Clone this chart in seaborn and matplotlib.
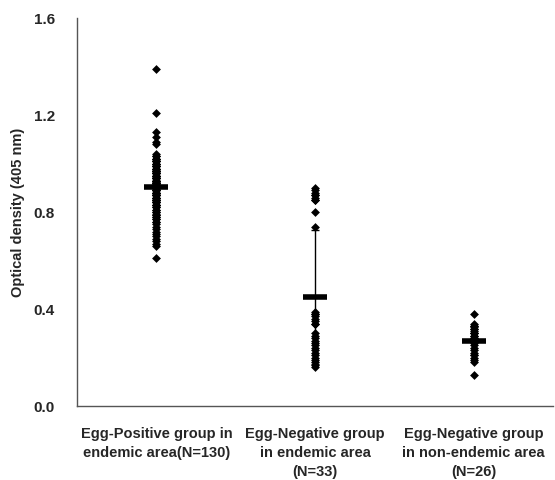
import numpy as np
import pandas as pd
import seaborn as sns
import matplotlib
matplotlib.use("Agg")
import matplotlib.pyplot as plt

# Group labels
groups = ["Egg-Positive group in\nendemic area(N=130)",
          "Egg-Negative group\nin endemic area\n(N=33)",
          "Egg-Negative group\nin non-endemic area\n(N=26)"]

# Optical density readings
egg_pos_endemic = [1.39, 1.21, 1.13, 1.11, 1.09, 1.08, 1.04, 1.03, 1.02, 1.02,
                   1.01, 1.01, 1.00, 1.00, 0.99, 0.99, 0.98, 0.98, 0.97, 0.97,
                   0.97, 0.96, 0.96, 0.96, 0.95, 0.95, 0.95, 0.94, 0.94, 0.94,
                   0.93, 0.93, 0.93, 0.93, 0.92, 0.92, 0.92, 0.92, 0.91, 0.91,
                   0.91, 0.91, 0.90, 0.90, 0.90, 0.90, 0.89, 0.89, 0.89, 0.89,
                   0.88, 0.88, 0.88, 0.88, 0.87, 0.87, 0.87, 0.87, 0.86, 0.86,
                   0.86, 0.85, 0.85, 0.85, 0.84, 0.84, 0.84, 0.83, 0.83, 0.83,
                   0.82, 0.82, 0.81, 0.81, 0.80, 0.80, 0.79, 0.79, 0.78, 0.78,
                   0.77, 0.77, 0.76, 0.76, 0.75, 0.74, 0.73, 0.72, 0.71, 0.70,
                   0.69, 0.68, 0.67, 0.66, 0.61, 0.95, 0.94, 0.93, 0.92, 0.91,
                   1.00, 0.99, 0.98, 0.97, 0.96, 0.90, 0.89, 0.88, 0.87, 0.86,
                   0.92, 0.91, 0.90, 0.89, 0.95, 0.94, 0.93, 1.03, 1.02, 1.01,
                   0.85, 0.84, 0.83, 0.96, 0.97, 0.98, 0.99, 0.93, 0.92, 0.91]
egg_neg_endemic = [0.90, 0.89, 0.88, 0.87, 0.87, 0.86, 0.85, 0.85, 0.80, 0.74,
                   0.39, 0.38, 0.38, 0.37, 0.36, 0.35, 0.34, 0.34,
                   0.30, 0.29, 0.28, 0.27, 0.26, 0.25, 0.24, 0.23, 0.22, 0.21,
                   0.20, 0.19, 0.18, 0.17, 0.16]
egg_neg_nonendemic = [0.38, 0.34, 0.33, 0.32, 0.31, 0.30, 0.30, 0.29, 0.29, 0.28,
                      0.28, 0.27, 0.27, 0.26, 0.25, 0.24, 0.23, 0.22, 0.21, 0.20,
                      0.19, 0.18, 0.33, 0.32, 0.30, 0.13]

df = pd.DataFrame({
    "group": [groups[0]] * len(egg_pos_endemic)
             + [groups[1]] * len(egg_neg_endemic)
             + [groups[2]] * len(egg_neg_nonendemic),
    "od": egg_pos_endemic + egg_neg_endemic + egg_neg_nonendemic,
})

sns.set_style("white")
plt.rcParams['font.family'] = ['Liberation Sans', 'DejaVu Sans']

fig = plt.figure(figsize=(5.55, 4.8), dpi=100)
ax = fig.add_axes([0.139, 0.154, 0.857, 0.808])

sns.stripplot(data=df, x="group", y="od", order=groups, jitter=False,
              marker="D", color="black", size=4.5, linewidth=0, ax=ax, zorder=3)

# mean +/- SD
stats = df.groupby("group", sort=False)["od"].agg(["mean", "std"]).reindex(groups)
xs = np.arange(len(groups))
ax.errorbar(xs, stats["mean"], yerr=stats["std"], fmt="none", ecolor="black",
            elinewidth=1.0, capsize=3, capthick=1.0, zorder=4)
ax.scatter(xs, stats["mean"], marker="_", s=300, linewidths=4, color="black", zorder=5)

ax.set_xlim(-0.5, 2.5)
ax.set_ylim(0, 1.6)
ax.set_yticks([0.0, 0.4, 0.8, 1.2, 1.6])
ax.set_yticklabels(["0.0", "0.4", "0.8", "1.2", "1.6"], fontsize=11, fontweight="bold")
ax.set_xticks(xs)
ax.set_xticklabels(groups, fontsize=10.5, fontweight="bold", linespacing=1.45)
ax.set_xticks([0.5, 1.5], minor=True)
ax.tick_params(axis="x", which="major", length=0, pad=15)
ax.tick_params(axis="x", which="minor", direction="in", length=4, color="#555555")
ax.tick_params(axis="y", direction="in", length=4, color="#555555", pad=16)

ax.set_xlabel("")
ax.set_ylabel("Optical density (405 nm)", fontsize=10.5, fontweight="bold", labelpad=6)

sns.despine(ax=ax)
for sp in ["left", "bottom"]:
    ax.spines[sp].set_color("#555555")
    ax.spines[sp].set_linewidth(1)

fig.savefig("out.png", dpi=100)
